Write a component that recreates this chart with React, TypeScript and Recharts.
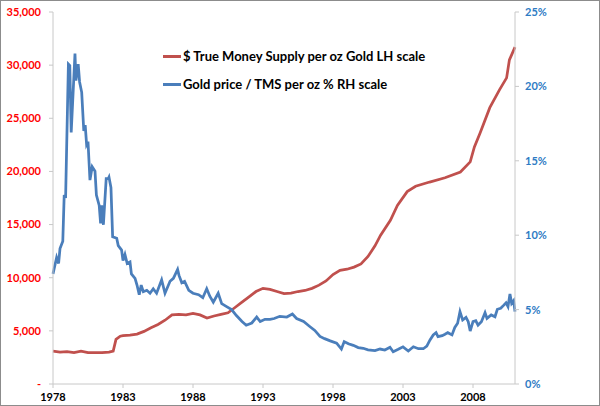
import React from 'react';
import { LineChart, Line, XAxis, YAxis, Legend } from 'recharts';

const tmsYears = [1978.0, 1978.5, 1979.0, 1979.5, 1980.0, 1980.5, 1981.0, 1981.5, 1982.0, 1982.3, 1982.5, 1982.8, 1983.0, 1983.5, 1984.0, 1984.5, 1985.0, 1985.5, 1986.0, 1986.5, 1987.0, 1987.5, 1988.0, 1988.5, 1989.0, 1989.5, 1990.0, 1990.5, 1991.0, 1991.5, 1992.0, 1992.5, 1993.0, 1993.5, 1994.0, 1994.5, 1995.0, 1995.5, 1996.0, 1996.5, 1997.0, 1997.5, 1998.0, 1998.5, 1999.0, 1999.5, 2000.0, 2000.5, 2001.0, 2001.4, 2002.1, 2002.6, 2003.3, 2003.9, 2004.9, 2006.0, 2007.1, 2007.8, 2008.1, 2008.5, 2009.2, 2009.9, 2010.4, 2010.6, 2011.0];
const tmsValues = [3100, 3000, 3050, 2950, 3100, 2950, 2950, 2950, 3000, 3100, 4200, 4500, 4550, 4600, 4700, 4950, 5300, 5600, 6000, 6500, 6550, 6500, 6650, 6500, 6200, 6400, 6550, 6700, 7200, 7700, 8200, 8700, 9000, 8900, 8700, 8500, 8550, 8700, 8800, 9000, 9300, 9700, 10300, 10700, 10800, 11000, 11300, 12000, 13000, 14000, 15400, 16800, 18100, 18600, 19000, 19400, 19950, 20900, 22300, 23600, 26000, 27700, 28800, 30500, 31700];

const ratioYears = [1978.0, 1978.26, 1978.4, 1978.5, 1978.7, 1978.8, 1978.9, 1979.1, 1979.2, 1979.3, 1979.57, 1979.64, 1979.8, 1979.9, 1980.05, 1980.2, 1980.3, 1980.4, 1980.5, 1980.64, 1980.8, 1981.0, 1981.1, 1981.3, 1981.4, 1981.48, 1981.6, 1981.8, 1981.95, 1982.0, 1982.14, 1982.26, 1982.55, 1982.66, 1982.9, 1983.0, 1983.14, 1983.3, 1983.5, 1983.6, 1983.86, 1984.0, 1984.16, 1984.3, 1984.45, 1984.7, 1984.93, 1985.16, 1985.4, 1985.76, 1986.0, 1986.36, 1986.6, 1986.9, 1987.0, 1987.2, 1987.4, 1987.7, 1988.0, 1988.4, 1988.7, 1988.98, 1989.2, 1989.45, 1989.8, 1990.05, 1990.4, 1990.76, 1991.1, 1991.5, 1991.8, 1992.2, 1992.55, 1992.8, 1993.14, 1993.5, 1993.8, 1994.2, 1994.7, 1995.1, 1995.4, 1995.9, 1996.36, 1996.7, 1997.07, 1997.4, 1997.8, 1998.26, 1998.6, 1998.8, 1999.1, 1999.45, 1999.8, 2000.16, 2000.5, 2001.0, 2001.36, 2001.7, 2002.07, 2002.3, 2002.66, 2003.0, 2003.38, 2003.74, 2004.1, 2004.45, 2004.7, 2004.93, 2005.16, 2005.36, 2005.5, 2005.8, 2006.0, 2006.2, 2006.5, 2006.7, 2006.9, 2007.07, 2007.26, 2007.5, 2007.66, 2007.8, 2008.0, 2008.2, 2008.36, 2008.6, 2008.86, 2009.0, 2009.3, 2009.57, 2009.74, 2009.98, 2010.2, 2010.36, 2010.5, 2010.64, 2010.76, 2010.9, 2011.0];
const ratioValues = [7.4, 8.5, 8.1, 9.1, 9.6, 12.7, 12.5, 21.5, 21.4, 16.9, 22.2, 20.4, 21.5, 20.3, 19.6, 17.0, 17.4, 16.1, 16.3, 13.7, 14.6, 14.3, 12.7, 12.0, 10.8, 12.0, 10.7, 13.8, 13.8, 13.9, 13.2, 9.9, 9.8, 9.3, 9.0, 8.3, 8.7, 8.1, 8.2, 7.4, 7.1, 6.65, 6.0, 6.65, 6.2, 6.3, 6.1, 6.4, 6.1, 7.0, 6.1, 6.9, 7.1, 7.7, 7.3, 6.8, 6.9, 6.3, 6.1, 6.0, 5.8, 6.4, 5.9, 5.5, 6.1, 5.4, 5.2, 5.0, 4.6, 4.2, 3.95, 4.1, 4.5, 4.2, 4.35, 4.35, 4.4, 4.55, 4.5, 4.7, 4.4, 4.2, 3.85, 3.6, 3.2, 3.05, 2.9, 2.75, 2.35, 2.85, 2.7, 2.6, 2.45, 2.4, 2.3, 2.25, 2.35, 2.28, 2.47, 2.17, 2.33, 2.5, 2.22, 2.5, 2.37, 2.37, 2.55, 2.96, 3.3, 3.45, 3.18, 3.25, 3.34, 3.45, 3.3, 3.8, 4.08, 4.86, 4.3, 4.48, 4.19, 3.56, 4.19, 4.25, 3.96, 4.19, 4.79, 4.41, 4.64, 4.52, 5.02, 5.09, 5.3, 5.46, 5.2, 6.05, 5.42, 5.6, 4.86];

const xTicks = [1978, 1983, 1988, 1993, 1998, 2003, 2008];
const leftTicks = [0, 5000, 10000, 15000, 20000, 25000, 30000, 35000];
const rightTicks = [0, 5, 10, 15, 20, 25];
const seriesNames = ['$ True Money Supply per oz Gold LH scale', 'Gold price / TMS per oz % RH scale'];

const RED = '#C0504D';
const BLUE = '#4A7EBB';
const FONT = 'Lato, "Open Sans", sans-serif';

const tmsData = tmsYears.map((y, i) => ({ year: y, tms: tmsValues[i] }));
const ratioData = ratioYears.map((y, i) => ({ year: y, ratio: ratioValues[i] }));

const LegendContent = () => (
  <div style={{ fontFamily: FONT, fontWeight: 700, fontSize: 13, color: '#000' }}>
    {[RED, BLUE].map((c, i) => (
      <div key={i} style={{ display: 'flex', alignItems: 'center', height: 28 }}>
        <div style={{ width: 18, height: 3, background: c, marginRight: 2 }} />
        <span>{seriesNames[i]}</span>
      </div>
    ))}
  </div>
);

export default function App() {
  return (
    <div style={{ position: 'absolute', left: 0, top: 0, width: 600, height: 406, boxSizing: 'border-box', border: '1px solid #8c8c8c', background: '#fff' }}>
      <div style={{ position: 'absolute', left: -1, top: -1 }}>
        <LineChart width={600} height={406} margin={{ top: 12, right: 0, bottom: 2, left: 0 }}>
          <XAxis
            type="number"
            dataKey="year"
            domain={[1978, 2011]}
            ticks={xTicks}
            allowDuplicatedCategory={false}
            height={20}
            tickSize={4}
            tickMargin={5}
            stroke="#c8c8c8"
            tick={{ fill: '#000', fontSize: 11, fontWeight: 700, fontFamily: FONT }}
          />
          <YAxis
            yAxisId="left"
            domain={[0, 35000]}
            ticks={leftTicks}
            width={53}
            tickSize={4}
            tickMargin={8}
            stroke="#c8c8c8"
            tickFormatter={(v: number) => (v === 0 ? '-' : v.toLocaleString('en-US'))}
            tick={{ fill: '#FF0000', fontSize: 11, fontWeight: 700, fontFamily: FONT }}
          />
          <YAxis
            yAxisId="right"
            orientation="right"
            domain={[0, 25]}
            ticks={rightTicks}
            width={85}
            tickSize={4}
            tickMargin={6}
            stroke="#c8c8c8"
            tickFormatter={(v: number) => `${v}%`}
            tick={{ fill: '#2E7BC4', fontSize: 11, fontWeight: 700, fontFamily: FONT }}
          />
          <Legend
            layout="vertical"
            align="center"
            verticalAlign="middle"
            content={LegendContent}
            wrapperStyle={{ top: 42, left: 163, width: 320 }}
          />
          <Line
            yAxisId="left"
            data={tmsData}
            dataKey="tms"
            name={seriesNames[0]}
            stroke={RED}
            strokeWidth={2.75}
            dot={false}
            isAnimationActive={false}
          />
          <Line
            yAxisId="right"
            data={ratioData}
            dataKey="ratio"
            name={seriesNames[1]}
            stroke={BLUE}
            strokeWidth={2.75}
            dot={false}
            isAnimationActive={false}
          />
        </LineChart>
      </div>
    </div>
  );
}
